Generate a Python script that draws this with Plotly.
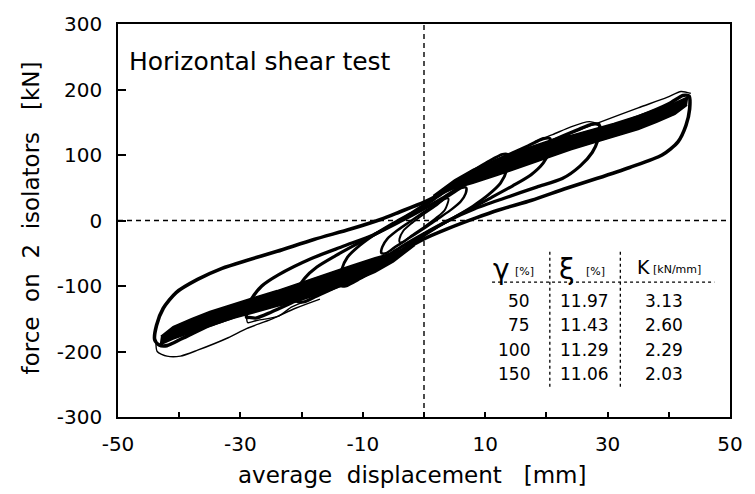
import plotly.graph_objects as go

FONT = "DejaVu Sans"

# ---------------- data ----------------
# 150 % shear strain loop (thick, repeated cycles)
L150_X = [43.3, 42.3, 40, 35, 29, 24, 20, 14, 8, 3, 0, -4, -7, -12, -18, -24, -29, -33, -37, -40.5, -42.6, -43.7, -44,
          -43.3, -42, -39.5, -35, -29, -24, -20, -14, -8, -3, 0, 4, 8.5, 12.2, 17.6, 22.9, 28.2, 33.6, 38.9, 41.5, 42.8, 43.4, 43.3]
L150_Y = [190, 191, 178, 158, 138, 122, 110, 90, 66, 42, 28, 13, 2, -13, -29, -47, -61, -73, -90, -110, -134, -160, -182,
          -190, -191, -180, -160, -140, -123, -111, -91, -67, -43, -28, -12, 4, 16, 31, 48, 64, 81, 100, 120, 145, 170, 190]

# 100 % loop
L100_X = [28.6, 27.5, 25, 21, 17, 12, 7, 3, 0, -4, -8.3, -13.1, -18.4, -23.8, -26.5, -28.2, -28.9, -29,
          -28.6, -27.5, -25, -21, -17, -12, -7, -3, 0, 4, 8.3, 13.1, 18.4, 22.6, 25.5, 27.5, 28.5, 28.8, 28.6]
L100_Y = [146, 147, 138, 122, 104, 82, 58, 34, 18, -2, -22, -39, -58, -83, -100, -120, -138, -148,
          -148, -149, -140, -123, -106, -84, -60, -36, -20, 0, 18, 34, 51, 64, 83, 104, 125, 140, 146]

# 75 % loop
L75_X = [20.6, 19.5, 17, 13, 9, 5, 2, 0, -4, -7.8, -11, -14.5, -17.5, -19.5, -20.6, -21,
         -20.6, -19.5, -17, -13, -9, -5, -2, 0, 4, 7.8, 11, 14.5, 17.5, 19.5, 20.5, 20.7, 20.6]
L75_Y = [125, 125, 114, 97, 77, 55, 35, 22, 0, -20, -36, -54, -71, -88, -104, -122,
         -124, -124, -113, -96, -76, -54, -34, -21, 0, 19, 35, 53, 70, 88, 106, 118, 125]

# 50 % loop
L50_X = [13.6, 12.8, 10.5, 7.5, 4.5, 1.5, 0, -2, -5, -8, -10.5, -12.5, -13.5, -13.8,
         -13.6, -12.8, -10.5, -7.5, -4.5, -1.5, 0, 2, 5, 8, 10.5, 12.5, 13.5, 13.6]
L50_Y = [101, 101, 90, 73, 55, 34, 24, 12, -4, -21, -38, -56, -76, -98,
         -100, -100, -89, -72, -54, -33, -23, -11, 5, 22, 39, 57, 77, 101]

# 25 % loop
L25_X = [6.9, 6.2, 4.8, 2.8, 0, -2.5, -4.5, -6, -6.8, -7,
         -6.9, -6.2, -4.8, -2.8, 0, 2.5, 4.5, 6, 6.8, 6.9]
L25_Y = [50, 50, 42, 30, 13, -3, -16, -28, -40, -49,
         -50, -50, -41, -29, -12, 4, 17, 29, 41, 50]

# small central loop
L12_X = [4.0, 3.4, 2.2, 0, -2, -3.4, -4.0, -4.0, -3.4, -2.2, 0, 2, 3.4, 4.0]
L12_Y = [33, 33, 24, 10, -4, -16, -28, -33, -33, -24, -10, 4, 16, 33]

# thin first-cycle outlines
T150_TOP_X = [43.6, 42, 39.7, 35, 29, 25, 20.5]
T150_TOP_Y = [194, 197, 188, 172, 151, 137, 122]
T150_BOT_X = [-43.8, -43.6, -42, -39.8, -37, -32, -29, -25, -21, -17]
T150_BOT_Y = [-182, -200, -207, -207, -198, -179, -165, -151, -134, -120]
T100_TOP_X = [28.8, 27, 24, 21, 18]
T100_TOP_Y = [147, 151, 143, 131, 120]
T100_BOT_X = [-29, -28.8, -27.5, -23.8, -21.6, -19]
T100_BOT_Y = [-148, -156, -153, -146, -132, -122]

# dense overlapping band of repeated cycles (outline)
BAND_R_X = [43.2, 41, 38, 35, 31, 28.3, 24, 20.5, 16, 12, 8, 5, 1.5, 5, 8, 12, 16, 20.5, 24, 28.3, 31, 35, 38, 41, 43]
BAND_R_Y = [189, 180, 170, 160, 148, 141, 130, 122, 108, 94, 78, 62, 38, 49, 57, 69, 82, 97, 108, 120, 128, 139, 150, 162, 176]
BAND_L_X = [-43.2, -41, -38, -35, -31, -28.3, -24, -20.5, -16, -12, -8, -5, -1.5, -5, -8, -12, -16, -20.5, -24, -28.3, -31, -35, -38, -41, -43]
BAND_L_Y = [-190, -181, -171, -161, -149, -142, -131, -123, -109, -95, -79, -63, -38, -49, -57, -69, -82, -96, -107, -119, -127, -139, -150, -162, -177]

# table
GAMMA = ["50", "75", "100", "150"]
XI = ["11.97", "11.43", "11.29", "11.06"]
KVAL = ["3.13", "2.60", "2.29", "2.03"]

X_TICKS = [-50, -30, -10, 10, 30, 50]
Y_TICKS = [-300, -200, -100, 0, 100, 200, 300]

# ---------------- figure ----------------
fig = go.Figure()

for bx, by in [(BAND_R_X, BAND_R_Y), (BAND_L_X, BAND_L_Y)]:
    fig.add_trace(go.Scatter(x=bx, y=by, mode="lines", fill="toself", fillcolor="black",
                             line=dict(color="black", width=1.5),
                             hoverinfo="skip", showlegend=False))

for lx, ly, w in [(L150_X, L150_Y, 3.6), (L100_X, L100_Y, 3.3), (L75_X, L75_Y, 3.1),
                  (L50_X, L50_Y, 2.9), (L25_X, L25_Y, 2.5), (L12_X, L12_Y, 2.0)]:
    fig.add_trace(go.Scatter(x=lx, y=ly, mode="lines",
                             line=dict(color="black", width=w, shape="spline", smoothing=0.7),
                             hoverinfo="skip", showlegend=False))

for tx, ty in [(T150_TOP_X, T150_TOP_Y), (T150_BOT_X, T150_BOT_Y),
               (T100_TOP_X, T100_TOP_Y), (T100_BOT_X, T100_BOT_Y)]:
    fig.add_trace(go.Scatter(x=tx, y=ty, mode="lines",
                             line=dict(color="black", width=1.4, shape="spline", smoothing=0.7),
                             hoverinfo="skip", showlegend=False))

L, R, T, B = 118, 12, 15, 77
W, H = 755, 494
PW, PH = W - L - R, H - T - B


def px(xp):
    return (xp - L) / PW


def py(yp):
    return (H - B - yp) / PH


fig.update_layout(
    width=W, height=H,
    margin=dict(l=L, r=R, t=T, b=B),
    paper_bgcolor="white", plot_bgcolor="white",
    font=dict(family=FONT, color="black"),
    showlegend=False,
    xaxis=dict(range=[-50, 50], tickvals=X_TICKS, ticktext=[str(v) for v in X_TICKS],
               ticks="inside", ticklen=5, tickwidth=1.5, tickcolor="black",
               minor=dict(ticks="inside", dtick=10, tick0=0, ticklen=5, tickwidth=1.5, tickcolor="black"),
               showline=True, linecolor="black", linewidth=1.6, mirror=True,
               showgrid=False, zeroline=False, tickfont=dict(size=20, family=FONT),
               ticklabelstandoff=8),
    yaxis=dict(range=[-300, 300], tickvals=Y_TICKS, ticktext=[str(v) for v in Y_TICKS],
               ticks="inside", ticklen=8, tickwidth=1.5, tickcolor="black",
               showline=True, linecolor="black", linewidth=1.6, mirror=True,
               showgrid=False, zeroline=False, tickfont=dict(size=20, family=FONT),
               ticklabelstandoff=10),
)

# dashed reference lines at x=0 and y=0
fig.add_shape(type="line", xref="x", yref="paper", x0=0, x1=0, y0=0, y1=1,
              line=dict(color="black", width=1.4, dash="5px,4px"), layer="below")
fig.add_shape(type="line", xref="paper", yref="y", x0=0, x1=1, y0=0, y1=0,
              line=dict(color="black", width=1.4, dash="5px,4px"), layer="below")

ann = []
ann.append(dict(text="Horizontal shear test", x=px(127), y=py(53), xref="paper", yref="paper",
                xanchor="left", yanchor="middle", showarrow=False, font=dict(size=25, family=FONT)))
ann.append(dict(text="average  displacement   [mm]", x=px(418), y=py(476), xref="paper", yref="paper",
                xanchor="center", yanchor="middle", showarrow=False, font=dict(size=23, family=FONT)))
ann.append(dict(text="force  on  2  isolators   [kN]", x=px(29), y=py(213), xref="paper", yref="paper",
                xanchor="center", yanchor="middle", textangle=-90, showarrow=False,
                font=dict(size=23, family=FONT)))

# table header
ann.append(dict(text="γ", x=px(510), y=py(266), xref="paper", yref="paper", xanchor="center",
                yanchor="middle", showarrow=False, font=dict(size=28, family=FONT)))
ann.append(dict(text="[%]", x=px(521), y=py(268), xref="paper", yref="paper", xanchor="left",
                yanchor="middle", showarrow=False, font=dict(size=11, family=FONT)))
ann.append(dict(text="ξ", x=px(577), y=py(266), xref="paper", yref="paper", xanchor="center",
                yanchor="middle", showarrow=False, font=dict(size=28, family=FONT)))
ann.append(dict(text="[%]", x=px(594), y=py(268), xref="paper", yref="paper", xanchor="left",
                yanchor="middle", showarrow=False, font=dict(size=11, family=FONT)))
ann.append(dict(text="K", x=px(646), y=py(264), xref="paper", yref="paper", xanchor="left",
                yanchor="middle", showarrow=False, font=dict(size=19, family=FONT)))
ann.append(dict(text="[kN/mm]", x=px(662), y=py(266), xref="paper", yref="paper", xanchor="left",
                yanchor="middle", showarrow=False, font=dict(size=11, family=FONT)))

row_y = [298, 323, 348, 373]
for g, xi, k, ry in zip(GAMMA, XI, KVAL, row_y):
    ann.append(dict(text=g, x=px(541), y=py(ry), xref="paper", yref="paper", xanchor="right",
                    yanchor="middle", showarrow=False, font=dict(size=17, family=FONT)))
    ann.append(dict(text=xi, x=px(594), y=py(ry), xref="paper", yref="paper", xanchor="center",
                    yanchor="middle", showarrow=False, font=dict(size=17, family=FONT)))
    ann.append(dict(text=k, x=px(676), y=py(ry), xref="paper", yref="paper", xanchor="center",
                    yanchor="middle", showarrow=False, font=dict(size=17, family=FONT)))
fig.update_layout(annotations=ann)

# table dotted rules
for xv in [559, 631]:
    fig.add_shape(type="line", xref="paper", yref="paper", x0=px(xv), x1=px(xv), y0=py(248), y1=py(388),
                  line=dict(color="black", width=1.3, dash="dot"))
fig.add_shape(type="line", xref="paper", yref="paper", x0=px(500), x1=px(727), y0=py(279), y1=py(279),
              line=dict(color="black", width=1.3, dash="dot"))

fig.write_html("out.html")
